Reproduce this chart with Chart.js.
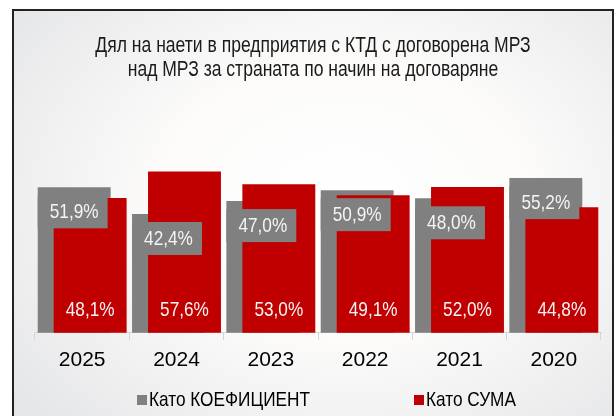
<!DOCTYPE html>
<html>
<head>
<meta charset="utf-8">
<script src="https://cdn.jsdelivr.net/npm/chart.js@4/dist/chart.umd.min.js"></script>
<style>
  body { margin: 0; background: #ffffff; }
  .frame {
    position: absolute; left: 12px; top: 9px; width: 598px; height: 420px;
    border: 2px solid #222;
    background: radial-gradient(ellipse 70% 75% at 55% 45%, #ffffff 0%, #fcfbfa 45%, #e5e6e8 100%);
  }
  .wrap { position: absolute; left: 0; top: 0; width: 616px; height: 416px; }
</style>
</head>
<body>
<div class="frame"></div>
<div class="wrap"><canvas id="chart" width="616" height="416"></canvas></div>
<script>
// Data
const years = ['2025', '2024', '2023', '2022', '2021', '2020'];
const coefShare = [51.9, 42.4, 47.0, 50.9, 48.0, 55.2];  // Като КОЕФИЦИЕНТ
const sumShare = [48.1, 57.6, 53.0, 49.1, 52.0, 44.8];   // Като СУМА
const seriesNames = ['Като КОЕФИЦИЕНТ', 'Като СУМА'];
const titleLines = ['Дял на наети в предприятия с КТД с договорена МРЗ', 'над МРЗ за страната по начин на договаряне'];

const GRAY = '#808080';
const RED = '#c00000';
const SANS = '"Liberation Sans", Arial, sans-serif';

const fmt = v => v.toFixed(1).replace('.', ',') + '%';

// no narrow font installed: squeeze Liberation Sans horizontally
function narrowText(ctx, text, x, y, size, color, align) {
  ctx.save();
  ctx.font = size + 'px ' + SANS;
  ctx.fillStyle = color;
  ctx.textAlign = align;
  ctx.textBaseline = 'middle';
  ctx.translate(x, y);
  ctx.scale(0.82, 1);
  ctx.fillText(text, 0, 0);
  ctx.restore();
}

// gray bars sit behind the red ones: draw gray first, then red
const drawOrder = {
  id: 'drawOrder',
  beforeDatasetDraw(chart, args) {
    if (args.index === 1) chart.getDatasetMeta(0).controller.draw();
    if (args.index === 0) return false;
  }
};

// title, value labels and legend
const textBits = {
  id: 'textBits',
  afterDatasetsDraw(chart) {
    const ctx = chart.ctx;
    // red labels near the base
    chart.getDatasetMeta(1).data.forEach((bar, i) => {
      narrowText(ctx, fmt(sumShare[i]), bar.x, bar.base - 23, 21, '#f4f4f4', 'center');
    });
    // gray labels in a gray box over the red bar
    chart.getDatasetMeta(0).data.forEach((bar, i) => {
      ctx.save();
      ctx.fillStyle = GRAY;
      ctx.fillRect(bar.x - bar.width / 2, bar.y + 8, bar.width - 3, 33);
      ctx.restore();
      narrowText(ctx, fmt(coefShare[i]), bar.x, bar.y + 25, 21, '#f4f4f4', 'center');
    });
  },
  afterDraw(chart) {
    const ctx = chart.ctx;
    titleLines.forEach((line, i) => {
      narrowText(ctx, line, 313, 46 + i * 24, 21.4, '#1a1a1a', 'center');
    });
    const colors = [GRAY, RED];
    const xs = [137, 414];
    const y = 400;
    seriesNames.forEach((name, i) => {
      ctx.save();
      ctx.fillStyle = colors[i];
      ctx.fillRect(xs[i], y - 5, 10, 10);
      ctx.restore();
      narrowText(ctx, name, xs[i] + 12, y, 21, '#000', 'left');
    });
  }
};

new Chart(document.getElementById('chart'), {
  type: 'bar',
  data: {
    labels: years,
    datasets: [
      { label: seriesNames[0], data: coefShare, backgroundColor: GRAY, clip: false },
      { label: seriesNames[1], data: sumShare, backgroundColor: RED, clip: false }
    ]
  },
  options: {
    responsive: false,
    animation: false,
    categoryPercentage: 0.339,
    barPercentage: 4.56,
    layout: { padding: { left: 35, right: 15, top: 103, bottom: 35 } },
    scales: {
      x: {
        grid: { drawOnChartArea: false, tickLength: 7, color: '#d4d4d4' },
        border: { color: '#d4d4d4' },
        ticks: { color: '#000', font: { family: SANS, size: 21 }, padding: 8 }
      },
      y: { display: false, min: 0, max: 82 }
    },
    plugins: {
      legend: { display: false },
      tooltip: { enabled: false },
      title: { display: false }
    }
  },
  plugins: [drawOrder, textBits]
});
</script>
</body>
</html>
